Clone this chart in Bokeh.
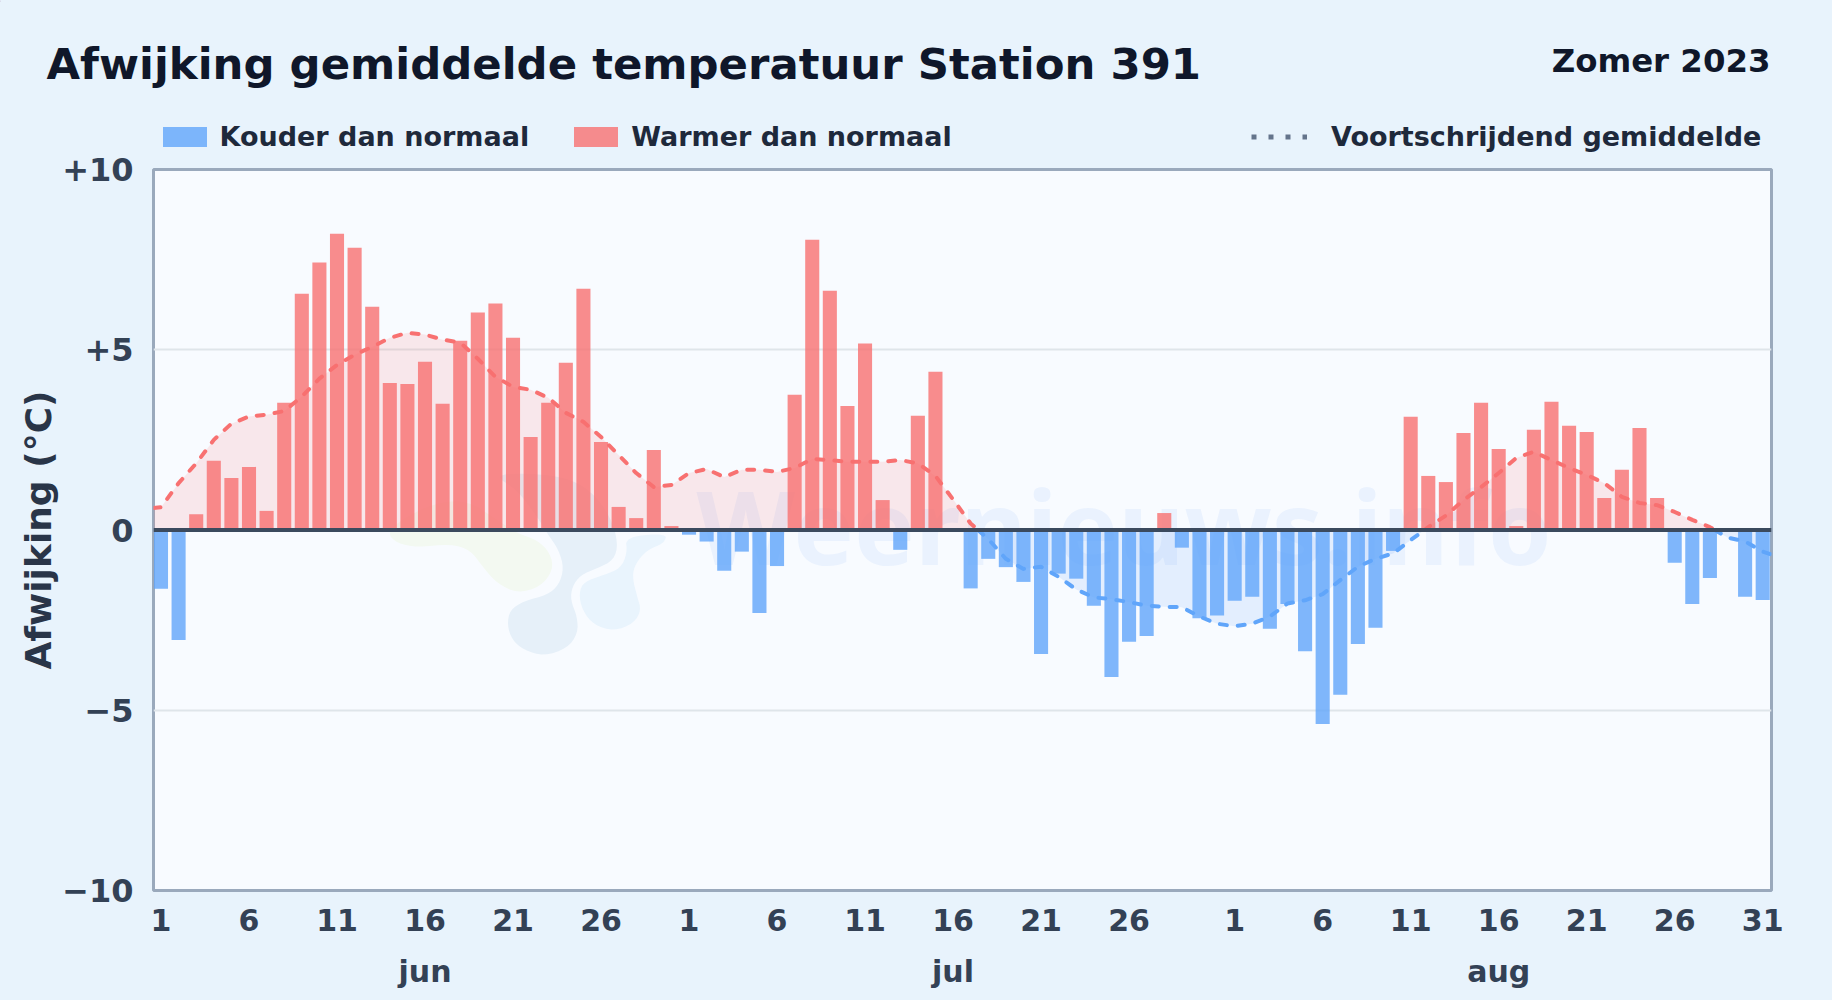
import numpy as np
from bokeh.plotting import figure
from bokeh.layouts import column
from bokeh.models import (ColumnDataSource, FixedTicker, LinearAxis, Label, Legend, LegendItem,
                          Range1d, Span, GlobalInlineStyleSheet)
from bokeh.embed import file_html
from bokeh.resources import INLINE

jun_values = [-1.63, -3.05, 0.44, 1.92, 1.44, 1.75, 0.53, 3.53, 6.55, 7.42, 8.22, 7.83, 6.19, 4.08, 4.05,
              4.67, 3.5, 5.25, 6.03, 6.28, 5.33, 2.58, 3.53, 4.64, 6.69, 2.44, 0.64, 0.33, 2.22, 0.11]
jul_values = [-0.13, -0.32, -1.13, -0.6, -2.3, -1.0, 3.75, 8.05, 6.64, 3.44, 5.17, 0.83, -0.55, 3.17, 4.39,
              0.0, -1.62, -0.8, -1.03, -1.44, -3.44, -1.21, -1.35, -2.1, -4.08, -3.1, -2.94, 0.47, -0.49,
              -2.45, -2.37]
aug_values = [-1.96, -1.85, -2.74, -2.05, -3.36, -5.38, -4.57, -3.16, -2.71, -0.58, 3.14, 1.5, 1.33, 2.69,
              3.53, 2.25, 0.11, 2.78, 3.56, 2.89, 2.72, 0.89, 1.67, 2.83, 0.89, -0.91, -2.05, -1.33, 0.0,
              -1.85, -1.94]

jun_mean = [0.63, 1.3, 1.85, 2.5, 2.95, 3.15, 3.2, 3.3, 3.7, 4.2, 4.58, 4.86, 5.08, 5.33, 5.47, 5.42, 5.28,
            5.2, 4.75, 4.25, 3.97, 3.89, 3.67, 3.25, 3.0, 2.58, 2.08, 1.58, 1.19, 1.25]
jul_mean = [1.58, 1.69, 1.47, 1.67, 1.67, 1.61, 1.72, 1.97, 1.94, 1.89, 1.89, 1.89, 1.94, 1.85, 1.5, 0.85,
            0.18, -0.25, -0.8, -1.08, -1.02, -1.3, -1.65, -1.87, -1.92, -2.0, -2.1, -2.13, -2.14, -2.4, -2.6]
aug_mean = [-2.67, -2.6, -2.4, -2.04, -1.95, -1.78, -1.39, -1.02, -0.8, -0.65, -0.28, 0.08, 0.4, 0.83, 1.19,
            1.58, 2.0, 2.17, 1.94, 1.72, 1.53, 1.3, 0.92, 0.75, 0.69, 0.5, 0.28, 0.08, -0.21, -0.32, -0.6]
mean_start = 0.61
mean_end = -0.68

x_tick_days = [1, 6, 11, 16, 21, 26, 31, 36, 41, 46, 51, 56, 62, 67, 72, 77, 82, 87, 92]
x_tick_labels = ["1", "6", "11", "16", "21", "26", "1", "6", "11", "16", "21", "26",
                 "1", "6", "11", "16", "21", "26", "31"]
month_days = [16, 46, 77]
month_labels = ["jun", "jul", "aug"]
y_ticks = [-10, -5, 0, 5, 10]
y_tick_labels = ["\u221210", "\u22125", "0", "+5", "+10"]

FONT = "DejaVu Sans"
BG = "#e8f3fc"
XMIN, XMAX = 0.574, 92.5
HEAD_H = 152

values = np.array(jun_values + jul_values + aug_values)
days = np.arange(1, len(values) + 1)
mean_days = np.concatenate([[XMIN], days, [XMAX]])
mean_vals = np.array([mean_start] + jun_mean + jul_mean + aug_mean + [mean_end])

# split the mean curve at its zero crossings, so each sign has its own colour
xs, ys = [], []
for i in range(len(mean_days) - 1):
    x0, x1, y0, y1 = mean_days[i], mean_days[i + 1], mean_vals[i], mean_vals[i + 1]
    xs.append(x0); ys.append(y0)
    if y0 * y1 < 0:
        xs.append(x0 + (x1 - x0) * (-y0) / (y1 - y0)); ys.append(0.0)
xs.append(mean_days[-1]); ys.append(mean_vals[-1])
xs, ys = np.array(xs), np.array(ys)
pos_y = np.where(ys >= 0, ys, np.nan)
neg_y = np.where(ys <= 0, ys, np.nan)

# ---------- header: title, period and legend ----------
head = figure(width=1832, height=HEAD_H, output_backend="svg", toolbar_location=None,
              x_range=Range1d(0, 1832), y_range=Range1d(HEAD_H, 0), frame_align=False,
              x_axis_type=None, y_axis_type=None, min_border=0,
              background_fill_color=BG, border_fill_color=BG, outline_line_color=None)
head.xgrid.visible = False
head.ygrid.visible = False
head.stylesheets = [GlobalInlineStyleSheet(css=f"html,body{{background:{BG};overflow:hidden;}}")]

head.add_layout(Label(x=46, y=63, text="Afwijking gemiddelde temperatuur Station 391",
                      text_baseline="alphabetic", text_font=FONT, text_font_style="bold",
                      text_font_size="43.4px", text_color="#0f172a"))
head.add_layout(Label(x=1770, y=60, text="Zomer 2023", text_align="right",
                      text_baseline="alphabetic", text_font=FONT, text_font_style="bold",
                      text_font_size="32.4px", text_color="#0f172a"))

# legend keys: their one mark lies off the header's range, only the key shows
k_cold = head.vbar(x=[-100], top=[1], width=1, fill_color="#60a5fa", fill_alpha=0.8, line_color=None)
k_warm = head.vbar(x=[-100], top=[1], width=1, fill_color="#f87171", fill_alpha=0.8, line_color=None)
k_mean = head.line([-100, -99], [1, 1], line_color="#64748b", line_width=5, line_dash="5 12")

def legend(items, x, y, **kw):
    return Legend(items=items, orientation="horizontal", location=(x, y), margin=0, padding=0,
                  background_fill_alpha=0, border_line_alpha=0,
                  label_text_font=FONT, label_text_font_style="bold", label_text_font_size="27px",
                  label_text_color="#1e293b", **kw)

head.add_layout(legend([LegendItem(label="Kouder dan normaal", renderers=[k_cold]),
                        LegendItem(label="Warmer dan normaal", renderers=[k_warm])],
                       156.5, 0, glyph_width=55, glyph_height=25, label_standoff=8, spacing=39), "center")
head.add_layout(legend([LegendItem(label="Voortschrijdend gemiddelde", renderers=[k_mean])],
                       1251, 0, glyph_width=56, glyph_height=25, label_standoff=24), "center")

# ---------- main chart ----------
p = figure(width=1832, height=1000 - HEAD_H, output_backend="svg", toolbar_location=None,
           x_range=Range1d(XMIN, XMAX), y_range=Range1d(-10, 10), frame_align=False,
           min_border_left=153, min_border_right=61, min_border_top=169 - HEAD_H, min_border_bottom=110,
           background_fill_color="#f8fbff", border_fill_color=BG,
           outline_line_color="#9aa9bc", outline_line_width=3)

# watermark
def to_x(px):
    return XMIN + (px - 153) / 17.6
def to_y(py):
    return (530 - py) / 36.05
def blob(points):
    pts = np.array(points, dtype=float)
    for _ in range(2):   # corner cutting: rounds off the logo's outline
        nxt = np.roll(pts, -1, axis=0)
        pts = np.column_stack([0.75 * pts + 0.25 * nxt, 0.25 * pts + 0.75 * nxt]).reshape(-1, 2)
    return to_x(350 + pts[:, 0] / 3), to_y(440 + pts[:, 1] / 3)

logo_green = [(110, 280), (140, 310), (200, 322), (300, 312), (360, 330), (400, 385), (440, 430), (500, 460),
              (570, 440), (608, 390), (600, 340), (560, 300), (500, 280), (440, 240), (350, 180), (250, 190),
              (150, 240)]
logo_grey = [(470, 555), (478, 510), (520, 483), (590, 465), (625, 435), (640, 385), (625, 330), (590, 280),
             (560, 230), (500, 150), (430, 105), (520, 100), (640, 110), (720, 150), (780, 230), (803, 310),
             (790, 360), (740, 385), (690, 405), (665, 440), (660, 480), (680, 530), (682, 580), (650, 625),
             (580, 648), (520, 630), (485, 600)]
logo_blue = [(685, 460), (700, 425), (760, 405), (810, 385), (830, 340), (825, 290), (950, 280), (940, 310),
             (890, 330), (855, 370), (845, 410), (860, 470), (872, 510), (850, 550), (790, 573), (730, 555),
             (695, 510)]
for pts, col in [(logo_green, "#f3f9f1"), (logo_grey, "#e6f0f9"), (logo_blue, "#e9f4fd")]:
    bx, by = blob(pts)
    p.patch(bx, by, fill_color=col, line_color=None, level="underlay")

p.add_layout(Label(x=to_x(696), y=to_y(525), text="Weernieuws.info", text_font="Noto Sans", text_font_style="bold",
                   text_font_size="102px", text_baseline="alphabetic",
                   text_color="#3b82f6", text_alpha=0.07, level="underlay"))

# filled area + curve, under the bars
p.varea(xs, y1=0, y2=np.clip(ys, 0, None), fill_color="#f87171", fill_alpha=0.14)
p.varea(xs, y1=0, y2=np.clip(ys, None, 0), fill_color="#60a5fa", fill_alpha=0.14)
p.line(xs, pos_y, line_color="#f87171", line_width=4, line_dash="7 11", line_cap="round")
p.line(xs, neg_y, line_color="#60a5fa", line_width=4, line_dash="7 11", line_cap="round")

src_neg = ColumnDataSource(dict(x=days[values < 0], top=values[values < 0]))
src_pos = ColumnDataSource(dict(x=days[values > 0], top=values[values > 0]))
p.vbar(x="x", top="top", bottom=0, width=0.8, source=src_neg, fill_color="#60a5fa", fill_alpha=0.8, line_color=None)
p.vbar(x="x", top="top", bottom=0, width=0.8, source=src_pos, fill_color="#f87171", fill_alpha=0.8, line_color=None)

p.add_layout(Span(location=0, dimension="width", line_color="#3b4a5e", line_width=4))

# axes
p.xgrid.visible = False
p.ygrid.ticker = FixedTicker(ticks=[-5, 5])
p.ygrid.grid_line_color = "#dfe5ea"
p.ygrid.grid_line_width = 2

xa = p.xaxis[0]
xa.ticker = FixedTicker(ticks=x_tick_days)
xa.major_label_overrides = {d: t for d, t in zip(x_tick_days, x_tick_labels)}
ya = p.yaxis[0]
ya.ticker = FixedTicker(ticks=y_ticks)
ya.major_label_overrides = {d: t for d, t in zip(y_ticks, y_tick_labels)}
ya.axis_label = "Afwijking (\u00b0C)"
ya.axis_label_text_font = FONT
ya.axis_label_text_font_style = "bold"
ya.axis_label_text_font_size = "36px"
ya.axis_label_text_color = "#293548"
ya.axis_label_standoff = 0

month_axis = LinearAxis(ticker=FixedTicker(ticks=month_days),
                        major_label_overrides={d: t for d, t in zip(month_days, month_labels)})
p.add_layout(month_axis, "below")

for ax in (xa, ya, month_axis):
    ax.axis_line_color = None
    ax.major_tick_line_color = None
    ax.minor_tick_line_color = None
    ax.major_label_text_font = FONT
    ax.major_label_text_font_style = "bold"
    ax.major_label_text_font_size = "30px"
    ax.major_label_text_color = "#334155"
ya.major_label_text_font_size = "32px"
xa.major_label_standoff = 12
ya.major_label_standoff = 14
month_axis.major_label_standoff = 14

open("out.html", "w").write(file_html(column(head, p, spacing=0), INLINE))
